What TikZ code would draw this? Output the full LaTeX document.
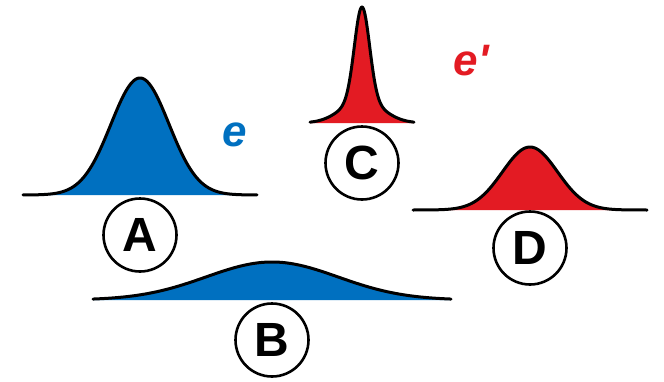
\documentclass[tikz,border=0pt]{standalone}
\usepackage{fontspec}
\setmainfont{Liberation Sans}
\definecolor{BellBlue}{HTML}{0070C0}
\definecolor{BellRed}{HTML}{E31B23}
\tikzset{
  bellLine/.style={draw=black, line width=3pt, line join=round, line cap=round},
  bellTag/.style={
    circle, draw=black, line width=2.6pt, minimum size=73pt, inner sep=0pt,
    font=\fontsize{48}{48}\selectfont\bfseries
  },
  bellName/.style={text=#1, inner sep=0pt, font=\fontsize{44}{44}\selectfont\bfseries\itshape},
  bellName/.default=BellBlue
}
% colour, centre x, baseline y, height, sigma, half width, tail weight
\newcommand{\bellcurve}[7]{
  \pgfmathsetmacro\bellL{#2-#6}
  \pgfmathsetmacro\bellR{#2+#6}
  \fill[#1] (\bellL,#3) -- plot[domain=\bellL:\bellR, samples=141, smooth]
    (\x,{#3-#4*((1-#7)*exp(-((\x-#2)/#5)^2/2)+#7*exp(-((\x-#2)/(2.7*#5))^2/2))})
    -- (\bellR,#3) -- cycle;
  \draw[bellLine] plot[domain=\bellL:\bellR, samples=141, smooth]
    (\x,{#3-#4*((1-#7)*exp(-((\x-#2)/#5)^2/2)+#7*exp(-((\x-#2)/(2.7*#5))^2/2))});
}

\begin{document}
\begin{tikzpicture}[x=1pt, y=-1pt]
  \useasboundingbox (0,0) rectangle (664,381);

  \bellcurve{BellBlue}{140}{195}{117}{29}{117}{0}
  \bellcurve{BellBlue}{272}{300}{38}{66}{179}{0}
  \bellcurve{BellRed}{362}{123}{116}{7.5}{52}{0.2}
  \bellcurve{BellRed}{530}{210}{63}{27.5}{117}{0}

  \node[bellTag] (tagA) at (140,235) {A};
  \node[bellTag] (tagB) at (272,340) {B};
  \node[bellTag] (tagC) at (362,163) {C};
  \node[bellTag] (tagD) at (530,248) {D};

  \node[bellName] (nameE) at (235,135) {e};
  \node[bellName=BellRed] (nameEp) at (471,61) {e\textquotesingle};
\end{tikzpicture}
\end{document}
